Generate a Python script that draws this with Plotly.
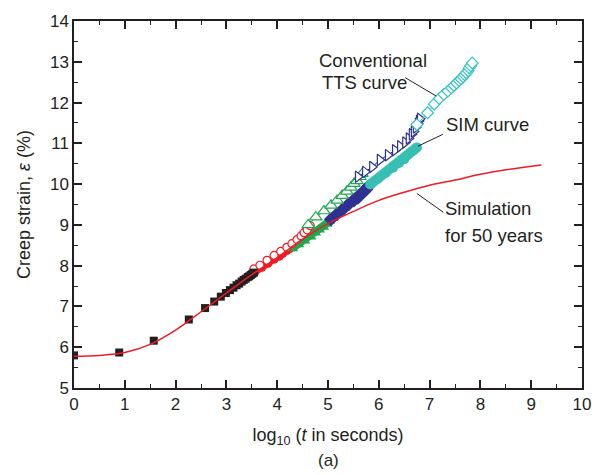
import plotly.graph_objects as go

# ---- data (log10 t, creep strain %) ----
sim_x = [0, 0.5, 1, 1.5, 2, 2.5, 3, 3.5, 4, 4.5, 5, 5.5, 6, 6.5, 7, 7.5, 8, 8.5, 9, 9.2]
sim_y = [5.78, 5.80, 5.87, 6.07, 6.42, 6.87, 7.33, 7.78, 8.2, 8.65, 9.03, 9.33, 9.6, 9.8, 9.97, 10.1, 10.24, 10.35, 10.44, 10.47]

black_x = [0, 0.89, 1.57, 2.26, 2.58, 2.76, 2.89, 2.99, 3.07, 3.14, 3.2, 3.25, 3.3, 3.34, 3.38, 3.42, 3.45, 3.48, 3.51, 3.54]
black_y = [5.80, 5.87, 6.16, 6.68, 6.96, 7.12, 7.24, 7.33, 7.40, 7.46, 7.52, 7.56, 7.61, 7.65, 7.68, 7.72, 7.74, 7.77, 7.80, 7.83]

# conventional TTS (open markers)
red_open_x = [3.54, 3.66, 3.80, 3.94, 4.07, 4.19, 4.29, 4.39, 4.47, 4.53, 4.59, 4.65]
red_open_y = [7.92, 8.01, 8.13, 8.25, 8.35, 8.45, 8.54, 8.64, 8.73, 8.81, 8.88, 8.98]
green_open_x = [4.61, 4.76, 4.92, 5.06, 5.18, 5.28, 5.37, 5.45, 5.51, 5.57, 5.63, 5.67]
green_open_y = [9.00, 9.19, 9.34, 9.48, 9.60, 9.72, 9.82, 9.92, 10.01, 10.08, 10.18, 10.25]
blue_open_x = [5.59, 5.73, 5.87, 6.02, 6.18, 6.32, 6.42, 6.52, 6.59, 6.65, 6.69, 6.73, 6.77, 6.79, 6.81]
blue_open_y = [10.18, 10.30, 10.42, 10.59, 10.71, 10.83, 10.93, 11.02, 11.12, 11.22, 11.29, 11.39, 11.48, 11.55, 11.60]
cyan_open_x = [6.75, 6.96, 7.09, 7.19, 7.28, 7.36, 7.43, 7.48, 7.53, 7.58, 7.62, 7.66, 7.69, 7.72, 7.76, 7.78, 7.81, 7.84]
cyan_open_y = [11.46, 11.75, 11.96, 12.10, 12.20, 12.28, 12.36, 12.42, 12.48, 12.54, 12.58, 12.63, 12.68, 12.73, 12.78, 12.85, 12.90, 12.97]

# SIM (filled markers)
red_fill_x = [3.56, 3.70, 3.82, 3.94, 4.04, 4.11, 4.19, 4.25, 4.31, 4.37, 4.41]
red_fill_y = [7.84, 7.96, 8.06, 8.16, 8.23, 8.30, 8.37, 8.42, 8.47, 8.52, 8.57]
green_fill_x = [4.29, 4.41, 4.53, 4.65, 4.74, 4.82, 4.90, 4.96, 5.02, 5.08]
green_fill_y = [8.42, 8.52, 8.61, 8.71, 8.81, 8.88, 8.95, 9.02, 9.10, 9.17]
blue_fill_x = [5.06, 5.18, 5.30, 5.41, 5.51, 5.59, 5.65, 5.71, 5.75, 5.79]
blue_fill_y = [9.14, 9.27, 9.39, 9.51, 9.60, 9.67, 9.75, 9.82, 9.87, 9.94]
cyan_fill_x = [5.83, 5.98, 6.14, 6.28, 6.40, 6.50, 6.57, 6.63, 6.69, 6.75]
cyan_fill_y = [9.99, 10.13, 10.28, 10.40, 10.52, 10.61, 10.71, 10.78, 10.83, 10.90]

x_ticks = list(range(0, 11))
y_ticks = list(range(5, 15))

INK = "#231f20"
RED = "#ed1c24"
GREEN = "#1fa84f"
BLUE = "#2e3192"
TEAL = "#38bfb4"
CYAN = "#35c3c3"
FONT = "Liberation Sans, Arial, sans-serif"

fig = go.Figure()

def band(x, y, color, symbol, size, lw):
    fig.add_trace(go.Scatter(x=x, y=y, mode="lines+markers",
                             line=dict(color=color, width=lw),
                             marker=dict(symbol=symbol, size=size, color=color,
                                         line=dict(width=0)),
                             hoverinfo="skip", showlegend=False))

def opened(x, y, color, symbol, size):
    fig.add_trace(go.Scatter(x=x, y=y, mode="lines+markers",
                             line=dict(color=color, width=1),
                             marker=dict(symbol=symbol, size=size, color="white",
                                         line=dict(width=1.2, color=color)),
                             hoverinfo="skip", showlegend=False))

# SIM filled bands
band(red_fill_x, red_fill_y, RED, "circle", 9, 7)
band(green_fill_x, green_fill_y, GREEN, "triangle-up", 11, 8)
band(blue_fill_x, blue_fill_y, BLUE, "diamond", 11, 9)
band(cyan_fill_x, cyan_fill_y, TEAL, "circle", 10, 10)

# conventional open markers (white filled, coloured outline)
opened(red_open_x, red_open_y, RED, "circle", 8)
opened(green_open_x, green_open_y, GREEN, "triangle-up", 11)
opened(blue_open_x, blue_open_y, BLUE, "triangle-right", 10)
opened(cyan_open_x, cyan_open_y, CYAN, "diamond", 9)

# black squares
fig.add_trace(go.Scatter(x=black_x, y=black_y, mode="markers",
                         marker=dict(symbol="square", size=8, color=INK),
                         hoverinfo="skip", showlegend=False))

# simulation line
fig.add_trace(go.Scatter(x=sim_x, y=sim_y, mode="lines",
                         line=dict(color=RED, width=1.5, shape="spline"),
                         hoverinfo="skip", showlegend=False))

# leader lines
for (x0, y0, x1, y1) in [(6.52, 12.61, 7.13, 12.16),
                         (7.26, 11.22, 6.77, 10.93),
                         (6.75, 9.77, 7.27, 9.31)]:
    fig.add_shape(type="line", x0=x0, y0=y0, x1=x1, y1=y1,
                  line=dict(color=INK, width=1))

ann_font = dict(family=FONT, size=18.5, color=INK)
for (x, y, t) in [(4.78, 13.02, "Conventional"), (4.84, 12.49, "TTS curve"),
                  (7.28, 11.45, "SIM curve"),
                  (7.26, 9.39, "Simulation"), (7.26, 8.75, "for 50 years")]:
    fig.add_annotation(x=x, y=y, text=t, showarrow=False,
                       xanchor="left", yanchor="middle", font=ann_font)

fig.add_annotation(x=0.5, xref="paper", y=-0.198, yref="paper", text="(a)",
                   showarrow=False, yanchor="middle",
                   font=dict(family=FONT, size=17, color=INK))

axis_common = dict(showline=True, linecolor=INK, linewidth=1.5, mirror="allticks",
                   ticks="inside", ticklen=8, tickwidth=1.5, tickcolor=INK,
                   showgrid=False, zeroline=False,
                   tickfont=dict(family=FONT, size=17, color=INK),
                   minor=dict(ticks="inside", ticklen=4, tickwidth=1.2, tickcolor=INK))

fig.update_xaxes(range=[0, 10], tickvals=x_ticks, ticktext=[str(v) for v in x_ticks],
                 minor_dtick=0.5, minor_tick0=0,
                 title=dict(text="log<sub>10</sub> (<i>t</i> in seconds)",
                            font=dict(family=FONT, size=18, color=INK), standoff=15),
                 **axis_common)
fig.update_yaxes(range=[5, 14], tickvals=y_ticks, ticktext=[str(v) for v in y_ticks],
                 minor_dtick=0.5, minor_tick0=5,
                 title=dict(text="Creep strain, <i>ε</i> (%)",
                            font=dict(family=FONT, size=18, color=INK), standoff=15),
                 **axis_common)

fig.update_layout(width=608, height=475, margin=dict(l=74, r=26, t=15, b=87),
                  plot_bgcolor="white", paper_bgcolor="white")

fig.write_html("out.html")
